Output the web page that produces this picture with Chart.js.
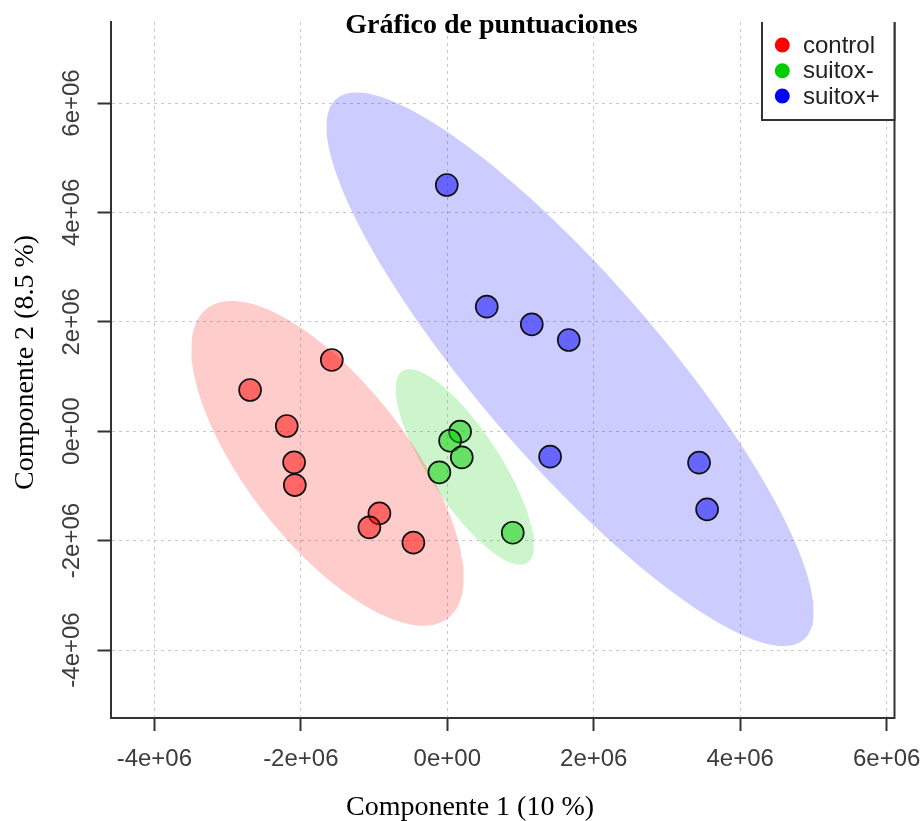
<!DOCTYPE html>
<html>
<head>
<meta charset="utf-8">
<title>Gráfico de puntuaciones</title>
<script src="https://cdn.jsdelivr.net/npm/chart.js@4/dist/chart.umd.min.js"></script>
<style>
  html, body { margin: 0; padding: 0; background: #ffffff; }
  canvas { display: block; }
</style>
</head>
<body>
<canvas id="scores" width="924" height="821"></canvas>
<script>
// Sample scores on the first two components, one pair of arrays per group
const groupNames = ['control', 'suitox-', 'suitox+'];

const controlX = [-1.577e6, -2.693e6, -2.192e6, -2.092e6, -2.082e6, -0.927e6, -1.064e6, -0.463e6];
const controlY = [ 1.302e6,  0.753e6,  0.095e6, -0.569e6, -0.984e6, -1.501e6, -1.757e6, -2.038e6];

const suitoxMinusX = [0.175e6,  0.038e6,  0.198e6, -0.108e6,  0.894e6];
const suitoxMinusY = [-0.009e6, -0.174e6, -0.477e6, -0.751e6, -1.856e6];

const suitoxPlusX = [-0.007e6, 0.539e6, 1.154e6, 1.659e6,  1.404e6,  3.438e6,  3.548e6];
const suitoxPlusY = [ 4.501e6, 2.276e6, 1.954e6, 1.667e6, -0.466e6, -0.576e6, -1.428e6];

// Axis ticks and their labels
const xTickValues = [-4e6, -2e6, 0, 2e6, 4e6, 6e6];
const xTickLabels = ['-4e+06', '-2e+06', '0e+00', '2e+06', '4e+06', '6e+06'];
const yTickValues = [-4e6, -2e6, 0, 2e6, 4e6, 6e6];
const yTickLabels = ['-4e+06', '-2e+06', '0e+00', '2e+06', '4e+06', '6e+06'];

// Axis limits
const xMin = -4.599e6, xMax = 6.107e6;
const yMin = -5.243e6, yMax = 7.481e6;

// Texts
const chartTitle = 'Gráfico de puntuaciones';
const xAxisTitle = 'Componente 1 (10 %)';
const yAxisTitle = 'Componente 2 (8.5 %)';

const groupColors = ['255,0,0', '0,205,0', '0,0,255'];

// 95% confidence ellipse of a group, from its mean and sample covariance
function confidenceEllipse(xs, ys, steps) {
  const n = xs.length;
  const mx = xs.reduce((a, b) => a + b, 0) / n;
  const my = ys.reduce((a, b) => a + b, 0) / n;
  let sxx = 0, syy = 0, sxy = 0;
  for (let i = 0; i < n; i++) {
    const dx = xs[i] - mx, dy = ys[i] - my;
    sxx += dx * dx; syy += dy * dy; sxy += dx * dy;
  }
  sxx /= (n - 1); syy /= (n - 1); sxy /= (n - 1);
  const sx = Math.sqrt(sxx), sy = Math.sqrt(syy);
  const d = Math.acos(sxy / (sx * sy));
  const t = Math.sqrt(-2 * Math.log(0.05)); // chi-square quantile, 2 df
  const pts = [];
  for (let i = 0; i <= steps; i++) {
    const a = 2 * Math.PI * i / steps;
    pts.push({ x: mx + t * sx * Math.cos(a + d / 2), y: my + t * sy * Math.cos(a - d / 2) });
  }
  return pts;
}

const toPoints = (xs, ys) => xs.map((x, i) => ({ x: x, y: ys[i] }));

const groupsX = [controlX, suitoxMinusX, suitoxPlusX];
const groupsY = [controlY, suitoxMinusY, suitoxPlusY];

const datasets = [];
groupNames.forEach((name, g) => {
  datasets.push({
    type: 'line',
    label: name + ' elipse',
    data: confidenceEllipse(groupsX[g], groupsY[g], 180),
    fill: 'shape',
    backgroundColor: 'rgba(' + groupColors[g] + ',0.2)',
    borderWidth: 0,
    borderColor: 'rgba(0,0,0,0)',
    pointRadius: 0,
    tension: 0,
    order: 5
  });
});
groupNames.forEach((name, g) => {
  datasets.push({
    type: 'scatter',
    label: name,
    data: toPoints(groupsX[g], groupsY[g]),
    backgroundColor: 'rgba(' + groupColors[g] + ',0.5)',
    borderColor: '#111111',
    borderWidth: 1.7,
    pointRadius: 11,
    order: 1
  });
});

const tickFont = { family: '"Liberation Sans", Arial, sans-serif', size: 24 };
const tickColor = '#3c3c3c';

// Frame, legend and titles drawn on top of the plot
const decorations = {
  id: 'decorations',
  afterDraw(chart) {
    const ctx = chart.ctx;
    const area = chart.chartArea;
    ctx.save();

    // right side of the frame
    ctx.strokeStyle = '#333333';
    ctx.lineWidth = 2;
    ctx.beginPath();
    ctx.moveTo(area.right, area.top);
    ctx.lineTo(area.right, area.bottom + 1);
    ctx.stroke();

    // legend box
    const lx = 762, lb = 120;
    ctx.fillStyle = '#ffffff';
    ctx.fillRect(lx, area.top, area.right - lx, lb - area.top);
    ctx.beginPath();
    ctx.moveTo(lx, area.top);
    ctx.lineTo(lx, lb);
    ctx.lineTo(area.right, lb);
    ctx.lineTo(area.right, area.top);
    ctx.stroke();

    const rows = [45, 70.7, 96];
    ctx.font = '24px "Liberation Sans", Arial, sans-serif';
    ctx.textAlign = 'left';
    ctx.textBaseline = 'middle';
    groupNames.forEach((name, g) => {
      ctx.fillStyle = 'rgb(' + groupColors[g] + ')';
      ctx.beginPath();
      ctx.arc(782.3, rows[g], 7.5, 0, 2 * Math.PI);
      ctx.fill();
      ctx.fillStyle = '#222222';
      ctx.fillText(name, 803, rows[g] + 1);
    });

    // titles
    ctx.fillStyle = '#000000';
    ctx.textAlign = 'center';
    ctx.textBaseline = 'alphabetic';
    ctx.font = 'bold 28px "Liberation Serif", "Times New Roman", serif';
    ctx.fillText(chartTitle, 491.5, 33);
    ctx.font = '28px "Liberation Serif", "Times New Roman", serif';
    ctx.fillText(xAxisTitle, 470, 815);
    ctx.translate(33, 362.5);
    ctx.rotate(-Math.PI / 2);
    ctx.fillText(yAxisTitle, 0, 0);
    ctx.restore();
  }
};

new Chart(document.getElementById('scores'), {
  type: 'scatter',
  data: { datasets: datasets },
  plugins: [decorations],
  options: {
    responsive: false,
    devicePixelRatio: 1,
    animation: false,
    events: [],
    layout: { padding: { left: 0, right: 29.5, top: 22, bottom: 0 } },
    plugins: {
      legend: { display: false },
      tooltip: { enabled: false },
      title: { display: false }
    },
    scales: {
      x: {
        type: 'linear',
        position: 'bottom',
        min: xMin,
        max: xMax,
        afterBuildTicks: s => { s.ticks = xTickValues.map(v => ({ value: v })); },
        afterFit: s => { s.height = 103; s.paddingLeft = 0; s.paddingRight = 0; },
        ticks: {
          callback: v => xTickLabels[xTickValues.indexOf(v)],
          font: tickFont,
          color: tickColor,
          padding: 13.6,
          minRotation: 0,
          maxRotation: 0,
          autoSkip: false
        },
        grid: {
          color: '#c8c8c8',
          lineWidth: 1,
          tickLength: 13,
          tickColor: '#333333',
          tickWidth: 2,
          tickBorderDash: []
        },
        border: { display: true, color: '#333333', width: 2, dash: [3, 4] },
        title: { display: false }
      },
      y: {
        type: 'linear',
        position: 'left',
        min: yMin,
        max: yMax,
        afterBuildTicks: s => { s.ticks = yTickValues.map(v => ({ value: v })); },
        afterFit: s => { s.width = 110.5; s.paddingTop = 0; s.paddingBottom = 0; },
        ticks: {
          callback: v => yTickLabels[yTickValues.indexOf(v)],
          font: tickFont,
          color: tickColor,
          padding: -12.7,
          minRotation: 90,
          maxRotation: 90,
          crossAlign: 'center',
          autoSkip: false
        },
        grid: {
          color: '#c8c8c8',
          lineWidth: 1,
          tickLength: 13,
          tickColor: '#333333',
          tickWidth: 2,
          tickBorderDash: []
        },
        border: { display: true, color: '#333333', width: 2, dash: [3, 4] },
        title: { display: false }
      }
    }
  }
});
</script>
</body>
</html>
